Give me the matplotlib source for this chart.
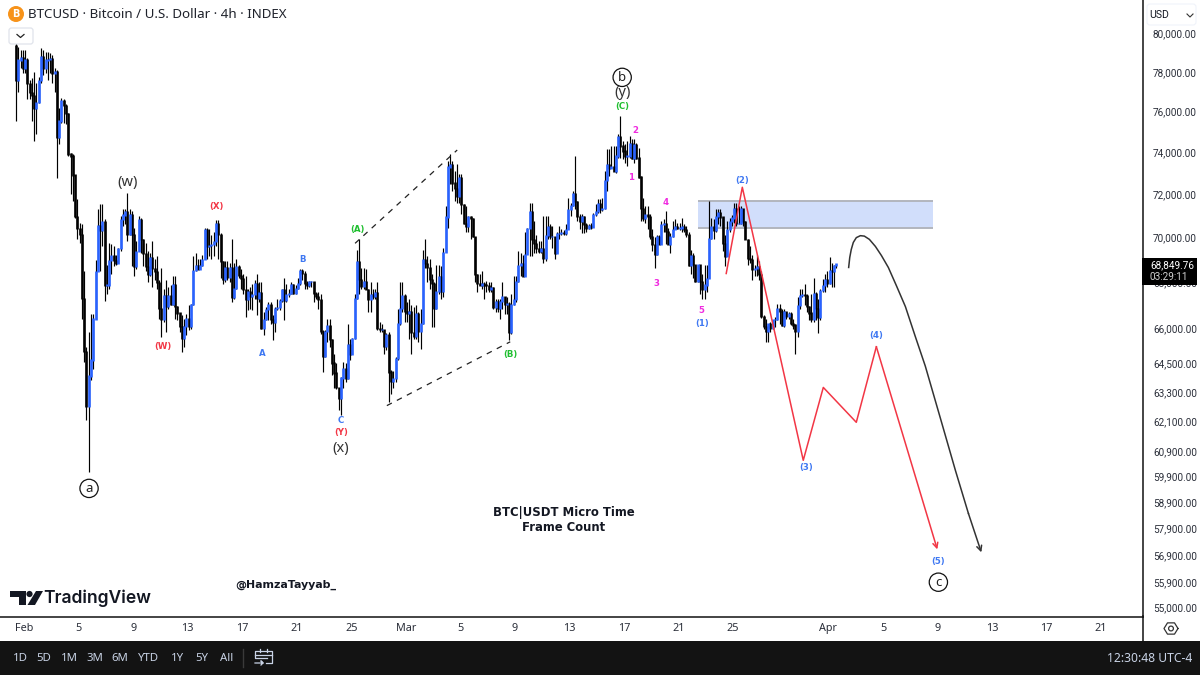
import numpy as np
import matplotlib
matplotlib.use("Agg")
import matplotlib.pyplot as plt
from matplotlib.patches import Rectangle, FancyBboxPatch, Circle, Polygon
from matplotlib.transforms import ScaledTranslation

FONT = ["Noto Sans", "DejaVu Sans"]
plt.rcParams["font.family"] = FONT

# ---------- data ----------
first_open = 79400
closes = [
77620,78650,78750,78230,78650,77470,77010,76850,76200,76500,
77620,78800,78230,78650,78680,78700,77970,78030,74800,75600,
76600,76350,75950,73980,73880,72970,71030,70470,70190,67320,
65030,62740,64000,64680,66440,68520,70610,70380,70800,67930,
67930,69020,69240,69020,68880,69560,70890,71080,71260,70190,
71120,70190,68750,69420,70890,69970,69330,68750,68390,69150,
68660,68520,68030,66880,66400,67450,66970,67450,67060,67930,
66970,66700,66100,65580,66100,66440,66100,67060,68570,68790,
68610,68790,69060,70430,69650,69700,69740,69880,70700,70190,
68970,68160,68700,68250,68700,67360,67760,68750,68340,68210,
67720,67280,67630,
67410,67500,67980,67320,67590,66010,66400,66840,67060,66400,
66270,66880,66930,67230,67720,67230,67500,67540,67930,67540,
67760,67980,68570,68430,67980,67890,68070,68070,67540,67410,
67280,65880,64820,65880,66140,65540,64560,64140,63520,63100,
63930,64310,63930,65320,64910,65580,67320,68970,68160,67850,
68070,67720,67280,67500,67410,67590,66010,65970,65970,65240,65750,
64180,63770,63900,64740,66230,66880,67450,66750,66700,66750,
65840,65670,66660,65880,66230,69060,68880,68700,68160,67980,
66880,67630,68300,67630,69380,70990,73350,73440,72580,72340,
71960,72820,71590,70700,70570,70990,70940,70100,68390,67980,
67930,67980,67930,67900,67720,67810,66930,67190,66880,67190,
67410,67060,67100,65840,67060,67280,68070,68790,68880,68300,
69280,70470,71260,69970,69790,69560,69420,69560,69100,70140,
70570,70100,70100,69330,70240,70240,70280,70250,70430,71350,
71540,72100,71730,71030,70800,70990,70660,70470,70610,70520,
71120,71260,71630,71350,71390,72720,73440,73300,73350,73150,
73880,74800,74370,74120,73880,73880,74460,73780,74410,73780,
72870,71390,70940,71120,71030,70100,69740,69280,70100,69740,
70660,70700,70330,69740,70100,70430,70570,70470,70500,70570,70430,
70190,68790,69240,68830,68070,68830,68070,67720,67930,68210,70000,
70570,70380,71030,71210,70990,69790,69200,70430,70800,70950,
71390,70700,70700,71390,70800,69970,69100,69060,68610,68660,
68750,68390,66530,66100,65880,66230,66010,66400,66410,
66880,66750,66180,66750,66530,66660,66230,66180,65880,
67010,67450,67500,67450,66970,66700,66400,67540,66880,66490,67670,
67900,68160,67980,68570,68520,68790,68849.76,
]
highs = [
79690,79320,79170,79170,79170,78750,77620,77720,78030,77470,
77770,79270,79170,79060,79060,79010,78910,78230,78130,76250,
76750,76700,76450,76000,74030,73980,71870,71820,70700,70660,
68520,65240,65880,66660,66660,69050,71390,71590,71590,70890,
68830,69790,69740,69650,69280,69560,71030,71390,71350,72100,
71350,71260,70470,69880,71030,70940,70000,69790,69420,69330,
69880,69060,69200,68160,68660,67760,68160,67850,67930,68300,
68300,67000,66620,66620,66440,66660,67060,67100,69200,69330,
69060,69060,69280,70470,70470,70430,70190,70330,70850,70850,
70240,68970,68970,68970,68880,70000,68880,69100,68830,68610,
68390,68300,67760,
67850,67980,68160,68390,68070,68070,66750,66970,67190,67190,
66620,66930,67280,67280,67720,68210,67980,67760,68070,67980,
67930,68210,68610,68610,68520,68110,68110,68110,68070,67600,
67630,67540,65970,65970,66440,66440,65580,64950,64560,63350,
63970,64600,64560,66230,65580,65620,67500,69510,69970,68660,
68660,68610,67760,68070,67720,67720,68070,66310,66230,65970,65840,
65880,64260,64200,64820,66880,68070,68070,67500,67190,67280,
67060,66970,67060,66750,66880,69510,70000,69200,69100,68430,
68070,68830,68830,68750,69560,71500,73640,73980,73640,73150,
73490,73010,73010,71590,71500,71030,71030,70940,70100,68430,
68430,68520,68070,68100,68070,68070,67850,67320,67320,67320,
68070,67320,67410,67190,67500,68300,68300,69420,69330,69280,
70330,70470,71630,71630,70800,70190,69880,69880,71030,71030,
71030,70660,70570,69740,70330,70570,70430,70400,70660,71870,
71630,72200,73880,71730,71120,71120,71030,70700,70660,70700,
71170,71590,71820,71820,71870,73150,74220,74220,74370,74370,
74370,74950,75850,74610,74460,74610,74850,74700,74700,74510,
74270,72920,71870,71500,71500,71120,70430,70100,70190,70190,
70800,70890,71260,70470,70240,70800,70890,70700,70700,70940,70660,
70570,70330,69510,69330,68830,68830,68520,68430,68830,68830,71730,
70940,70890,71350,71350,71350,70940,70190,70800,70940,71100,
71630,71630,71500,71500,71350,70800,69970,69650,69280,68830,
69280,68970,68520,66620,66440,66230,66310,66400,66530,
67100,67100,66880,66880,66750,66750,66750,66440,66230,
67410,67760,67760,67980,67500,67000,67500,68210,67630,67280,67760,
68200,68390,68520,69150,68880,68830,68830,
]
lows = [
75600,77010,78230,77970,77970,76700,76700,75600,74610,74950,
76500,77470,77870,77970,77620,77970,77470,77010,72820,74460,
75500,75500,75450,73880,72060,71730,70940,70000,69790,66440,
64600,62200,60130,63850,64310,66440,68520,68520,69650,67230,
67500,67760,68430,68750,68830,68880,69420,70570,70660,69880,
70190,68750,68300,68610,69420,69330,68750,68520,68070,68300,
67850,68160,67760,66440,65670,66310,65880,66880,67060,67060,
66440,66400,65880,65030,65240,65750,65970,66010,67060,68520,
68610,68610,68750,69100,69100,69200,69100,69200,69650,69060,
68210,67980,68070,68160,68070,67190,67320,67720,68210,67760,
67500,66530,66840,
66880,66840,67320,66620,67190,66010,65750,66400,66400,66230,
65540,65880,66840,66840,67190,66400,67190,67410,67500,67500,
67500,67720,67930,68160,67760,67760,67810,67850,67190,67280,
66880,65790,64180,64820,65450,65240,64060,63520,63480,62610,
62410,63520,63770,63890,64680,64910,65580,67320,67500,67720,
67720,67720,66750,66750,67280,67280,65970,65880,65880,64950,65110,
62940,63270,63500,63770,64680,66180,66750,66310,66310,65580,
64950,65580,65580,65450,65160,66230,68660,68070,67760,66100,
66100,66880,67540,67320,67410,69420,70470,72530,72200,71730,
71630,71630,71120,70660,70330,70330,70000,70100,68070,67630,
67930,67760,67320,67600,67630,67630,66880,66750,66750,66440,
66880,66660,66660,65540,65790,67060,67190,68070,68300,68300,
68300,69330,69200,69200,69330,69330,69330,69330,68880,68970,
70000,70000,69560,69100,69330,70000,70190,70150,70190,70430,
71030,71500,71350,70800,70430,70240,70240,70330,70430,70430,
70520,71030,71170,71170,71260,71350,72200,72920,73300,73150,
73060,73780,73780,73740,73540,73400,73780,73740,73540,73740,
72820,70800,70800,70700,70430,70000,69420,68660,69280,69740,
69740,70330,69740,69740,69330,70100,70430,70430,70400,70330,70330,
70100,68750,68430,68210,68070,68070,67500,67280,67320,67630,68210,
69970,69970,70330,70660,70570,69420,68750,69200,70330,70600,
70700,70570,70660,70660,70570,69970,68830,68880,68160,68300,
68300,68160,66490,66010,65450,65450,65880,66010,66100,
66400,66230,66140,66100,66440,66440,66180,66010,64950,
65670,66880,67410,67060,66750,66400,66310,66310,66400,65840,66400,
67600,67630,67810,67980,67810,67810,68660,
]
tick_dates = ["2026-02-01","2026-02-05","2026-02-09","2026-02-13","2026-02-17","2026-02-21","2026-02-25",
              "2026-03-01","2026-03-05","2026-03-09","2026-03-13","2026-03-17","2026-03-21","2026-03-25",
              "2026-04-01","2026-04-05","2026-04-09","2026-04-13","2026-04-17","2026-04-21"]
tick_labels = ["Feb","5","9","13","17","21","25","Mar","5","9","13","17","21","25","Apr","5","9","13","17","21"]
price_ticks = [80000,78000,76000,74000,72000,70000,68000,66000,64500,63300,62100,60900,59900,58900,57900,56900,55900,55000]

# Projection paths: days after 1 Feb, price
red_days = [51.5,52.68,57.15,58.62,61.04,62.51,66.98]
red_prices = [68430,72390,60580,63530,62100,65240,57160]
curve_days = [60.48,60.56,60.67,60.82,61.04,61.34,61.63,62.0,62.44,62.88,63.39,63.98,64.64,65.37,66.10,67.21,68.31,69.26,70.21]
curve_prices = [68700,69150,69510,69830,70050,70140,70120,69970,69650,69240,68700,67890,66970,65670,64420,62260,60180,58520,57050]
upper_days = [24.28,31.77]; upper_prices = [69790,74170]
lower_days = [26.61,35.66]; lower_prices = [62780,65450]
zone_days = [49.45,66.67]; zone_prices = [70470,71730]

RED, BLUE, GREEN, PINK, DARK = "#f23645", "#3f78f2", "#1fbf2f", "#f02be0", "#333333"
wave_text = ["(w)","(X)","(W)","A","B","C","(Y)","(x)","(A)","(B)","(y)","(C)","2","1","4","3","5","(1)","(2)","(3)","(4)","(5)"]
wave_days = [7.63,14.09,10.2,17.46,20.4,23.26,23.26,23.26,24.43,35.66,43.87,43.87,44.83,44.53,47.03,46.37,49.67,49.74,52.68,57.37,62.51,67.06]
wave_prices = [72630,71500,65240,64950,69060,62180,61700,61060,70430,64910,77010,76300,75100,72870,71680,67980,66800,66230,72730,60310,65710,56710]
wave_colors = [DARK,RED,RED,BLUE,BLUE,BLUE,RED,DARK,GREEN,GREEN,DARK,GREEN,PINK,PINK,PINK,PINK,PINK,BLUE,BLUE,BLUE,BLUE,BLUE]
wave_sizes = [10.5,6.2,6.2,6.2,6.2,6.2,6.2,10.5,6.2,6.2,10.5,6.2,6.2,6.2,6.2,6.2,6.2,6.2,6.2,6.2,6.2,6.2]
circle_text = ["a","b","c"]
circle_days = [4.77,43.87,67.06]
circle_prices = [59480,77770,55950]

assert len(closes) == len(highs) == len(lows), (len(closes), len(highs), len(lows))

# ---------- figure ----------
W, H = 1200, 675
fig = plt.figure(figsize=(W/100, H/100), dpi=100, facecolor="white")
AX_R, AX_B = 1142.5, 616.5
ax = fig.add_axes([0, 1-AX_B/H, AX_R/W, AX_B/H])
ax.set_yscale("log")
ax.set_ylim(54712, 81795)
ax.set_xlim(-1.761, 82.03)

closes_a = np.array(closes, float)
highs_a = np.array(highs, float)
lows_a = np.array(lows, float)
opens_a = np.r_[first_open, closes_a[:-1]]
days = -0.587 + np.arange(len(closes_a))/6.0
up = closes_a >= opens_a

# zone
zone = Rectangle((zone_days[0], zone_prices[0]), zone_days[1]-zone_days[0], zone_prices[1]-zone_prices[0],
                 fc="#d1defb", ec="none", zorder=1)
ax.add_patch(zone)
ax.hlines(zone_prices, *zone_days, color="#b2b5be", lw=1.4, zorder=1.2)

ax.vlines(days, lows_a, highs_a, color="black", lw=0.85, zorder=2)
top = np.maximum(opens_a, closes_a)
bot = np.minimum(opens_a, closes_a)
k = 1.0005
ax.vlines(days[~up], bot[~up]/k, top[~up]*k, color="black", lw=1.9, zorder=3)
ax.vlines(days[up], bot[up]/k, top[up]*k, color="#2962ff", lw=1.9, zorder=3)

# projections
ax.plot(red_days[:-1], red_prices[:-1], color="#f23645", lw=1.1, zorder=4)
ax.annotate("", xy=(red_days[-1], red_prices[-1]), xytext=(red_days[-2], red_prices[-2]),
            arrowprops=dict(arrowstyle="->", color="#f23645", lw=1.1, shrinkA=0, shrinkB=0, mutation_scale=9), zorder=4)
ax.plot(curve_days[:-1], curve_prices[:-1], color="#333333", lw=1.1, zorder=4)
ax.annotate("", xy=(curve_days[-1], curve_prices[-1]), xytext=(curve_days[-2], curve_prices[-2]),
            arrowprops=dict(arrowstyle="->", color="#333333", lw=1.1, shrinkA=0, shrinkB=0, mutation_scale=9), zorder=4)
for d, p in ((upper_days, upper_prices), (lower_days, lower_prices)):
    ax.plot(d, p, color="#222222", lw=0.9, dashes=(4.5, 4.5), zorder=4)

for t, d, p, c, s in zip(wave_text, wave_days, wave_prices, wave_colors, wave_sizes):
    if s > 8:
        ax.text(d, p, t, color=c, fontsize=s, ha="center", va="center", zorder=6)
    else:
        ax.text(d, p, t, color=c, fontsize=s, ha="center", va="center", zorder=6,
                fontweight="bold", family="DejaVu Sans")
for t, d, p in zip(circle_text, circle_days, circle_prices):
    ax.text(d, p, t, color="#222222", fontsize=9.5, ha="center", va="center", zorder=6,
            bbox=dict(boxstyle="circle,pad=0.2", fc="white", ec="#111111", lw=0.9))

# axes
for s in ("top", "left"):
    ax.spines[s].set_visible(False)
for s in ("right", "bottom"):
    ax.spines[s].set_linewidth(1.1)
    ax.spines[s].set_color("#111111")
ax.yaxis.tick_right()
ax.set_yticks(price_ticks)
ax.set_yticklabels([f"{v:,.2f}" for v in price_ticks], fontsize=7.2, color="#2a2e39", family="Roboto")
ax.minorticks_off()
ax.tick_params(axis="y", length=0, pad=7.5, which="both")
up_shift = ScaledTranslation(0, 0.8/72, fig.dpi_scale_trans)
for lbl in ax.get_yticklabels():
    lbl.set_transform(lbl.get_transform() + up_shift)
base = np.datetime64("2026-02-01")
tick_x = [(np.datetime64(d)-base)/np.timedelta64(1, "D") for d in tick_dates]
ax.set_xticks(tick_x)
ax.set_xticklabels(tick_labels, fontsize=7.8, color="#2a2e39")
ax.tick_params(axis="x", length=0, pad=5)

# overlay in pixel units for the chart chrome
ov = fig.add_axes([0, 0, 1, 1], facecolor="none", zorder=10)
ov.set_xlim(0, W); ov.set_ylim(H, 0); ov.axis("off")

# title
ov.add_patch(Circle((16, 14), 8, fc="#f7931a", ec="none"))
ov.text(16, 14, "B", color="white", fontsize=7, fontweight="bold", ha="center", va="center", family="DejaVu Sans")
ov.text(27.5, 14.5, "BTCUSD · Bitcoin / U.S. Dollar · 4h · INDEX", fontsize=9.6, color="#1f222b", va="center", ha="left")
ov.add_patch(FancyBboxPatch((9, 28), 24, 16, boxstyle="round,pad=0,rounding_size=2.5", fc="white", ec="#e0e3eb", lw=0.9, zorder=7))
ov.plot([17, 20.5, 24], [34.5, 37.5, 34.5], color="#222", lw=0.9, zorder=8)

# price label area
ov.add_patch(FancyBboxPatch((1147, 4), 49, 21, boxstyle="round,pad=0,rounding_size=3", fc="white", ec="#f0f3fa", lw=0.8, zorder=7))
ov.text(1149, 14.5, "USD", fontsize=7.6, color="#131722", va="center", zorder=8, family="Roboto")
ov.plot([1187, 1190, 1193], [14, 17, 14], color="#333", lw=0.8, zorder=8)
ov.add_patch(Rectangle((1142, 258), 54.5, 26.5, fc="black", ec="none", zorder=7))
ov.text(1150, 265, "68,849.76", fontsize=7.2, color="white", va="center", zorder=8, family="Roboto")
ov.text(1150, 277, "03:29:11", fontsize=7.2, color="#d0d0d0", va="center", zorder=8, family="Roboto")

# gear, axis separator
ov.plot([1142.5, 1142.5], [616, 641], color="#111", lw=1.1)
ang = np.deg2rad(np.arange(0, 361, 60))
ov.plot(1171+7*np.cos(ang), 628.5+6.5*np.sin(ang), color="#333", lw=0.9)
ov.add_patch(Circle((1171, 628.5), 2.4, fc="none", ec="#333", lw=0.9))

# toolbar
ov.add_patch(Rectangle((0, 641), W, 34, fc="#131313", ec="none"))
TB = "#c9d3e6"
for t, x in zip(["1D","5D","1M","3M","6M","YTD","1Y","5Y","All"], [20,44,69.5,95,120,149,178,202,226.5]):
    ov.text(x, 658.5, t, fontsize=8.2, color=TB, ha="center", va="center")
ov.plot([243, 243], [649, 667], color="#3a3a3a", lw=1)
ov.plot([266, 272, 272, 255, 255, 267], [663, 663, 650.5, 650.5, 658, 658], color=TB, lw=0.9)
ov.plot([255, 272], [654.5, 654.5], color=TB, lw=0.9)
ov.plot([260, 260], [649, 652], color=TB, lw=0.9); ov.plot([267, 267], [649, 652], color=TB, lw=0.9)
ov.plot([255, 263, 261, 263, 261], [663, 663, 661, 663, 665], color=TB, lw=0.9)
ov.text(1192, 658, "12:30:48 UTC-4", fontsize=8.7, color=TB, ha="right", va="center")

# watermark and notes
ov.add_patch(Polygon([(10,591),(26,591),(26,605),(19,605),(19,597),(10,597)], fc="#131722", ec="none"))
ov.add_patch(Circle((29.5, 594), 3.1, fc="#131722", ec="none"))
ov.add_patch(Polygon([(36,591),(43,591),(35,605),(27.5,605)], fc="#131722", ec="none"))
ov.text(43, 598, "TradingView", fontsize=12.6, fontweight="semibold", color="#131722", va="center", family="Inter")
ov.text(286, 585, "@HamzaTayyab_", fontsize=7.9, fontweight="bold", color="#131722", ha="center", va="center", family="DejaVu Sans")
ov.text(564, 520, "BTC|USDT Micro Time\nFrame Count", fontsize=8.4, fontweight="bold", color="#131722",
        ha="center", va="center", linespacing=1.2, family="DejaVu Sans")

fig.savefig("out.png", dpi=100)
